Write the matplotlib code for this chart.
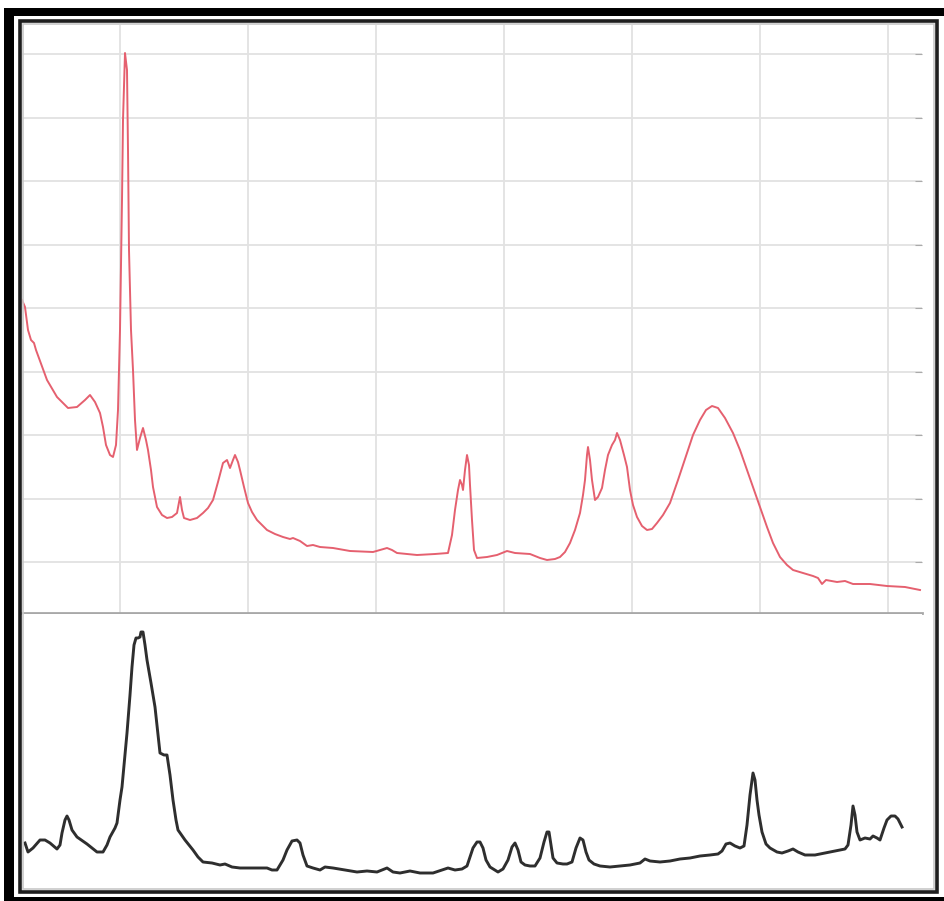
import numpy as np
import matplotlib
matplotlib.use('Agg')
import matplotlib.pyplot as plt
from matplotlib.patches import Rectangle

# upper spectrum (red), x in pixel-like units, y = height above divider
red_x = [22, 25, 28, 31, 34, 36, 47, 57, 68, 77, 85, 90, 95, 100, 103, 106, 110, 113, 116, 118,
         120, 122, 123, 125, 127, 128, 129, 131, 133, 135, 137, 140, 143, 146, 148, 151, 153, 157,
         162, 167, 172, 177, 180, 182, 184, 190, 197, 203, 208, 213, 218, 223, 227, 230, 233, 235,
         238, 240, 244, 248, 252, 257, 262, 267, 275, 283, 290, 293, 300, 307, 313, 320, 333, 350,
         373, 380, 387, 392, 397, 417, 435, 448, 452, 455, 458, 460, 462, 463, 465, 467, 469, 470,
         472, 474, 477, 487, 497, 507, 515, 530, 540, 547, 555, 560, 565, 570, 575, 580, 583, 585,
         587, 588, 590, 592, 595, 598, 602, 605, 608, 612, 615, 617, 620, 624, 627, 630, 633, 637,
         642, 647, 652, 657, 663, 670, 678, 687, 693, 700, 706, 712, 718, 725, 733, 740, 747, 753,
         760, 767, 773, 780, 787, 793, 803, 813, 818, 822, 826, 837, 845, 853, 870, 887, 905, 920]
red_y = [313, 306, 283, 273, 270, 263, 233, 216, 205, 206, 213, 218, 211, 200, 186, 168, 158, 156, 168, 203,
         283, 413, 493, 560, 543, 463, 363, 283, 243, 193, 163, 175, 185, 173, 163, 143, 126, 106,
         98, 95, 96, 100, 116, 103, 95, 93, 95, 100, 105, 113, 131, 150, 153, 145, 153, 158,
         151, 143, 126, 110, 101, 93, 88, 83, 79, 76, 74, 75, 72, 67, 68, 66, 65, 62,
         61, 63, 65, 63, 60, 58, 59, 60, 78, 103, 123, 133, 128, 123, 143, 158, 148, 128,
         93, 63, 55, 56, 58, 62, 60, 59, 55, 53, 54, 56, 61, 70, 83, 100, 118, 133,
         158, 166, 153, 133, 113, 116, 125, 143, 158, 168, 173, 180, 173, 158, 146, 123, 108, 96,
         87, 83, 84, 90, 98, 110, 133, 160, 178, 193, 203, 207, 205, 195, 180, 163, 143, 126,
         106, 86, 70, 56, 48, 43, 40, 37, 35, 29, 33, 31, 32, 29, 29, 27, 26, 23]

# lower spectrum (black)
blk_x = [25, 28, 33, 40, 45, 50, 57, 60, 62, 65, 67, 69, 72, 77, 87, 97, 103, 107, 110, 115,
         117, 120, 122, 125, 127, 130, 132, 134, 136, 138, 140, 141, 143, 145, 147, 151, 155, 158,
         160, 164, 167, 170, 173, 176, 178, 185, 193, 198, 203, 212, 220, 225, 232, 240, 255, 267,
         272, 277, 283, 287, 292, 297, 300, 303, 307, 313, 320, 325, 333, 345, 357, 367, 377, 387,
         393, 400, 410, 420, 433, 442, 448, 455, 462, 467, 470, 473, 477, 480, 483, 486, 490, 498,
         503, 508, 512, 515, 518, 521, 525, 530, 535, 540, 544, 547, 549, 551, 553, 557, 563, 567,
         572, 576, 580, 583, 586, 589, 594, 600, 610, 620, 630, 640, 645, 650, 660, 670, 680, 690,
         700, 710, 718, 722, 726, 730, 735, 740, 744, 747, 750, 753, 755, 757, 759, 762, 766, 770,
         777, 782, 788, 793, 798, 805, 815, 825, 835, 845, 848, 851, 853, 855, 857, 860, 865, 870,
         873, 877, 880, 884, 887, 891, 895, 898, 902]
blk_y = [45, 36, 40, 48, 48, 45, 39, 43, 55, 68, 72, 68, 58, 51, 44, 36, 36, 43, 51, 60,
         65, 88, 101, 133, 155, 193, 221, 243, 250, 250, 251, 256, 256, 243, 228, 205, 181, 153,
         135, 133, 133, 113, 88, 68, 58, 48, 38, 31, 26, 25, 23, 24, 21, 20, 20, 20,
         18, 18, 28, 38, 47, 48, 45, 33, 22, 20, 18, 21, 20, 18, 16, 17, 16, 20,
         16, 15, 17, 15, 15, 18, 20, 18, 19, 22, 31, 40, 46, 46, 40, 28, 21, 16,
         19, 28, 41, 45, 38, 26, 23, 22, 22, 30, 46, 56, 56, 43, 30, 25, 24, 24,
         26, 40, 50, 48, 36, 28, 24, 22, 21, 22, 23, 25, 29, 27, 26, 27, 29, 30,
         32, 33, 34, 37, 44, 45, 42, 40, 42, 63, 93, 115, 108, 88, 73, 56, 44, 40,
         36, 35, 37, 39, 36, 33, 33, 35, 37, 39, 43, 63, 82, 73, 56, 48, 50, 49,
         52, 50, 48, 60, 68, 72, 72, 69, 61]

W, H = 945, 901


def fx(px):
    return px / W


def fy(py):
    return 1 - py / H


fig = plt.figure(figsize=(W / 100, H / 100), dpi=100)
fig.patch.set_facecolor('white')

# upper panel with grid
ax1 = fig.add_axes([fx(22), fy(613), fx(922) - fx(22), fy(25) - fy(613)])
ax1.plot(red_x, red_y, color='#e5606f', lw=1.4)
ax1.set_xlim(22, 922)
ax1.set_ylim(0, 588)
ax1.set_xticks(np.arange(120, 922, 128))
ax1.set_yticks(np.arange(51, 588, 63.5))
ax1.grid(True, color='#e2e2e2', lw=1.3)
ax1.set_axisbelow(True)
ax1.tick_params(axis='x', length=0, labelbottom=False)
ax1.tick_params(axis='y', left=False, right=True, direction='in', length=5,
                color='#aaaaaa', labelleft=False)
for s in ['top', 'left', 'right']:
    ax1.spines[s].set_visible(False)
ax1.spines['bottom'].set_color('#a8a8a8')
ax1.spines['bottom'].set_linewidth(2)

# lower panel
ax2 = fig.add_axes([fx(22), fy(888), fx(922) - fx(22), fy(614) - fy(888)])
ax2.plot(blk_x, blk_y, color='#2e2e2e', lw=2.1)
ax2.set_xlim(22, 922)
ax2.set_ylim(0, 274)
ax2.set_xticks([])
ax2.set_yticks([])
for s in ax2.spines.values():
    s.set_visible(False)

# picture frame
def frame_box(x0, y0, x1, y1, **kw):
    fig.patches.append(Rectangle((fx(x0), fy(y1)), fx(x1) - fx(x0), fy(y0) - fy(y1),
                                 transform=fig.transFigure, **kw))

frame_box(4, 8, 14, 901, facecolor='black', edgecolor='none')
frame_box(4, 8, 945, 16, facecolor='black', edgecolor='none')
frame_box(4, 897, 945, 901, facecolor='black', edgecolor='none')
frame_box(20, 21, 937, 892, facecolor='none', edgecolor='#1e1e1e', lw=2.6)
frame_box(23, 24, 934, 889, facecolor='none', edgecolor='#c8c8c8', lw=1.2)

fig.savefig('out.png', dpi=100)
